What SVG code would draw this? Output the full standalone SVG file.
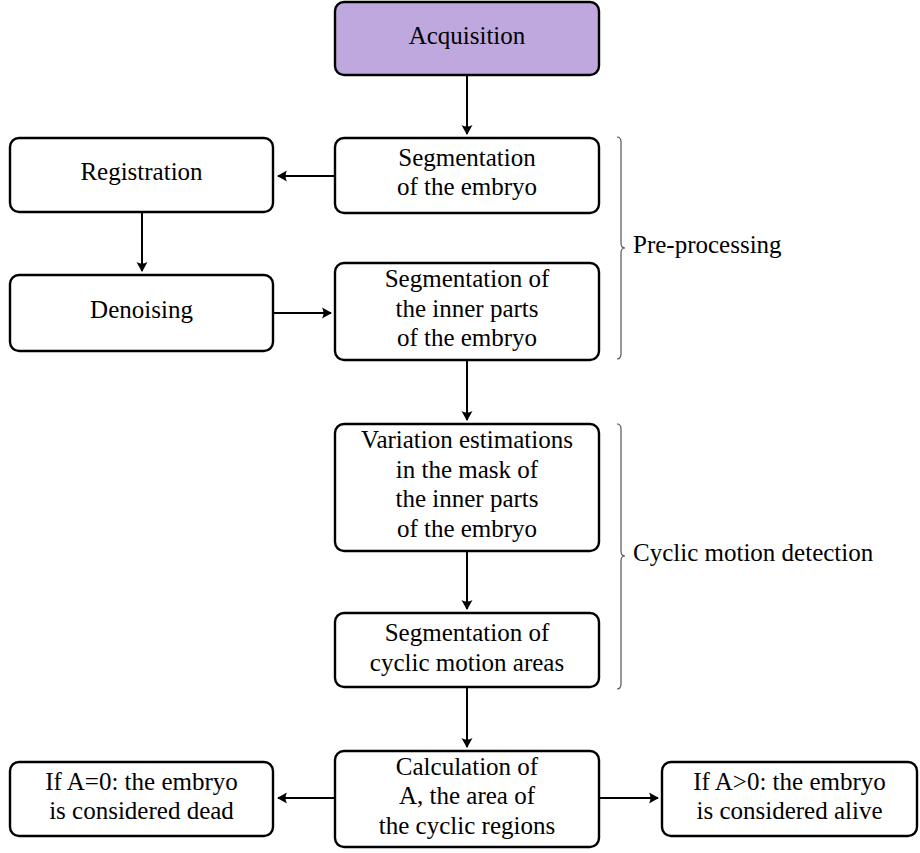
<svg xmlns="http://www.w3.org/2000/svg" width="920" height="853" viewBox="0 0 920 853">
<style>
.box{fill:#fff;stroke:#000;stroke-width:2.4}
.acq{fill:#BFA8DE}
.t{font-family:"Liberation Serif","Times New Roman",serif;font-size:25px;fill:#000;text-anchor:middle}
.lbl{font-family:"Liberation Serif","Times New Roman",serif;font-size:25px;fill:#000;text-anchor:start}
.arr{stroke:#000;stroke-width:2;fill:none;marker-end:url(#ah)}
.brace{stroke:#555;stroke-width:1.2;fill:none}
</style>
<defs>
<marker id="ah" markerUnits="userSpaceOnUse" markerWidth="14" markerHeight="14" viewBox="-11 -7 14 14" refX="0" refY="0" orient="auto">
<path d="M1,0 L-9,-5.5 Q-6,0 -9,5.5 Z" fill="#000"/>
</marker>
</defs>
<g id="connectors">
<line class="arr" x1="467" y1="75" x2="467" y2="134"/>
<line class="arr" x1="335" y1="176" x2="278" y2="176"/>
<line class="arr" x1="142" y1="212" x2="142" y2="271"/>
<line class="arr" x1="273" y1="313" x2="331" y2="313"/>
<line class="arr" x1="467" y1="360" x2="467" y2="420"/>
<line class="arr" x1="467" y1="551" x2="467" y2="609"/>
<line class="arr" x1="467" y1="687" x2="467" y2="747"/>
<line class="arr" x1="335" y1="798" x2="278" y2="798"/>
<line class="arr" x1="599" y1="798" x2="658" y2="798"/>
</g>
<g id="acquisition">
<rect class="box acq" x="335" y="2" width="264" height="73" rx="9"/>
<text class="t" x="467" y="43.5">Acquisition</text>
</g>
<g id="seg-embryo">
<rect class="box" x="335" y="138" width="264" height="75" rx="9"/>
<text class="t" x="467" y="166">Segmentation</text>
<text class="t" x="467" y="195">of the embryo</text>
</g>
<g id="registration">
<rect class="box" x="10" y="138" width="263" height="74" rx="9"/>
<text class="t" x="141.5" y="180">Registration</text>
</g>
<g id="denoising">
<rect class="box" x="10" y="275" width="263" height="76" rx="9"/>
<text class="t" x="141.5" y="318">Denoising</text>
</g>
<g id="seg-inner">
<rect class="box" x="335" y="263" width="264" height="97" rx="9"/>
<text class="t" x="467" y="287">Segmentation of</text>
<text class="t" x="467" y="316.5">the inner parts</text>
<text class="t" x="467" y="346">of the embryo</text>
</g>
<g id="variation">
<rect class="box" x="335" y="424" width="264" height="127" rx="9"/>
<text class="t" x="467" y="448">Variation estimations</text>
<text class="t" x="467" y="477.5">in the mask of</text>
<text class="t" x="467" y="507">the inner parts</text>
<text class="t" x="467" y="536.5">of the embryo</text>
</g>
<g id="seg-cyclic">
<rect class="box" x="335" y="613" width="264" height="74" rx="9"/>
<text class="t" x="467" y="641">Segmentation of</text>
<text class="t" x="467" y="670.5">cyclic motion areas</text>
</g>
<g id="calculation">
<rect class="box" x="335" y="751" width="264" height="96" rx="9"/>
<text class="t" x="467" y="775">Calculation of</text>
<text class="t" x="467" y="804">A, the area of</text>
<text class="t" x="467" y="833.5">the cyclic regions</text>
</g>
<g id="dead">
<rect class="box" x="10" y="762" width="263" height="74" rx="9"/>
<text class="t" x="141.5" y="789.5">If A=0: the embryo</text>
<text class="t" x="141.5" y="819">is considered dead</text>
</g>
<g id="alive">
<rect class="box" x="662" y="762" width="255" height="74" rx="9"/>
<text class="t" x="789.5" y="789.5">If A&gt;0: the embryo</text>
<text class="t" x="789.5" y="819">is considered alive</text>
</g>
<g id="brace-preprocessing">
<path class="brace" d="M617,137 Q621,137 621,142 L621,243 Q621,248 625,248 Q621,248 621,253 L621,354 Q621,359 617,359"/>
<text class="lbl" x="633" y="253">Pre-processing</text>
</g>
<g id="brace-cyclic">
<path class="brace" d="M617,424 Q621,424 621,429 L621,551 Q621,556 625,556 Q621,556 621,561 L621,684 Q621,689 617,689"/>
<text class="lbl" x="633" y="561">Cyclic motion detection</text>
</g>
</svg>
